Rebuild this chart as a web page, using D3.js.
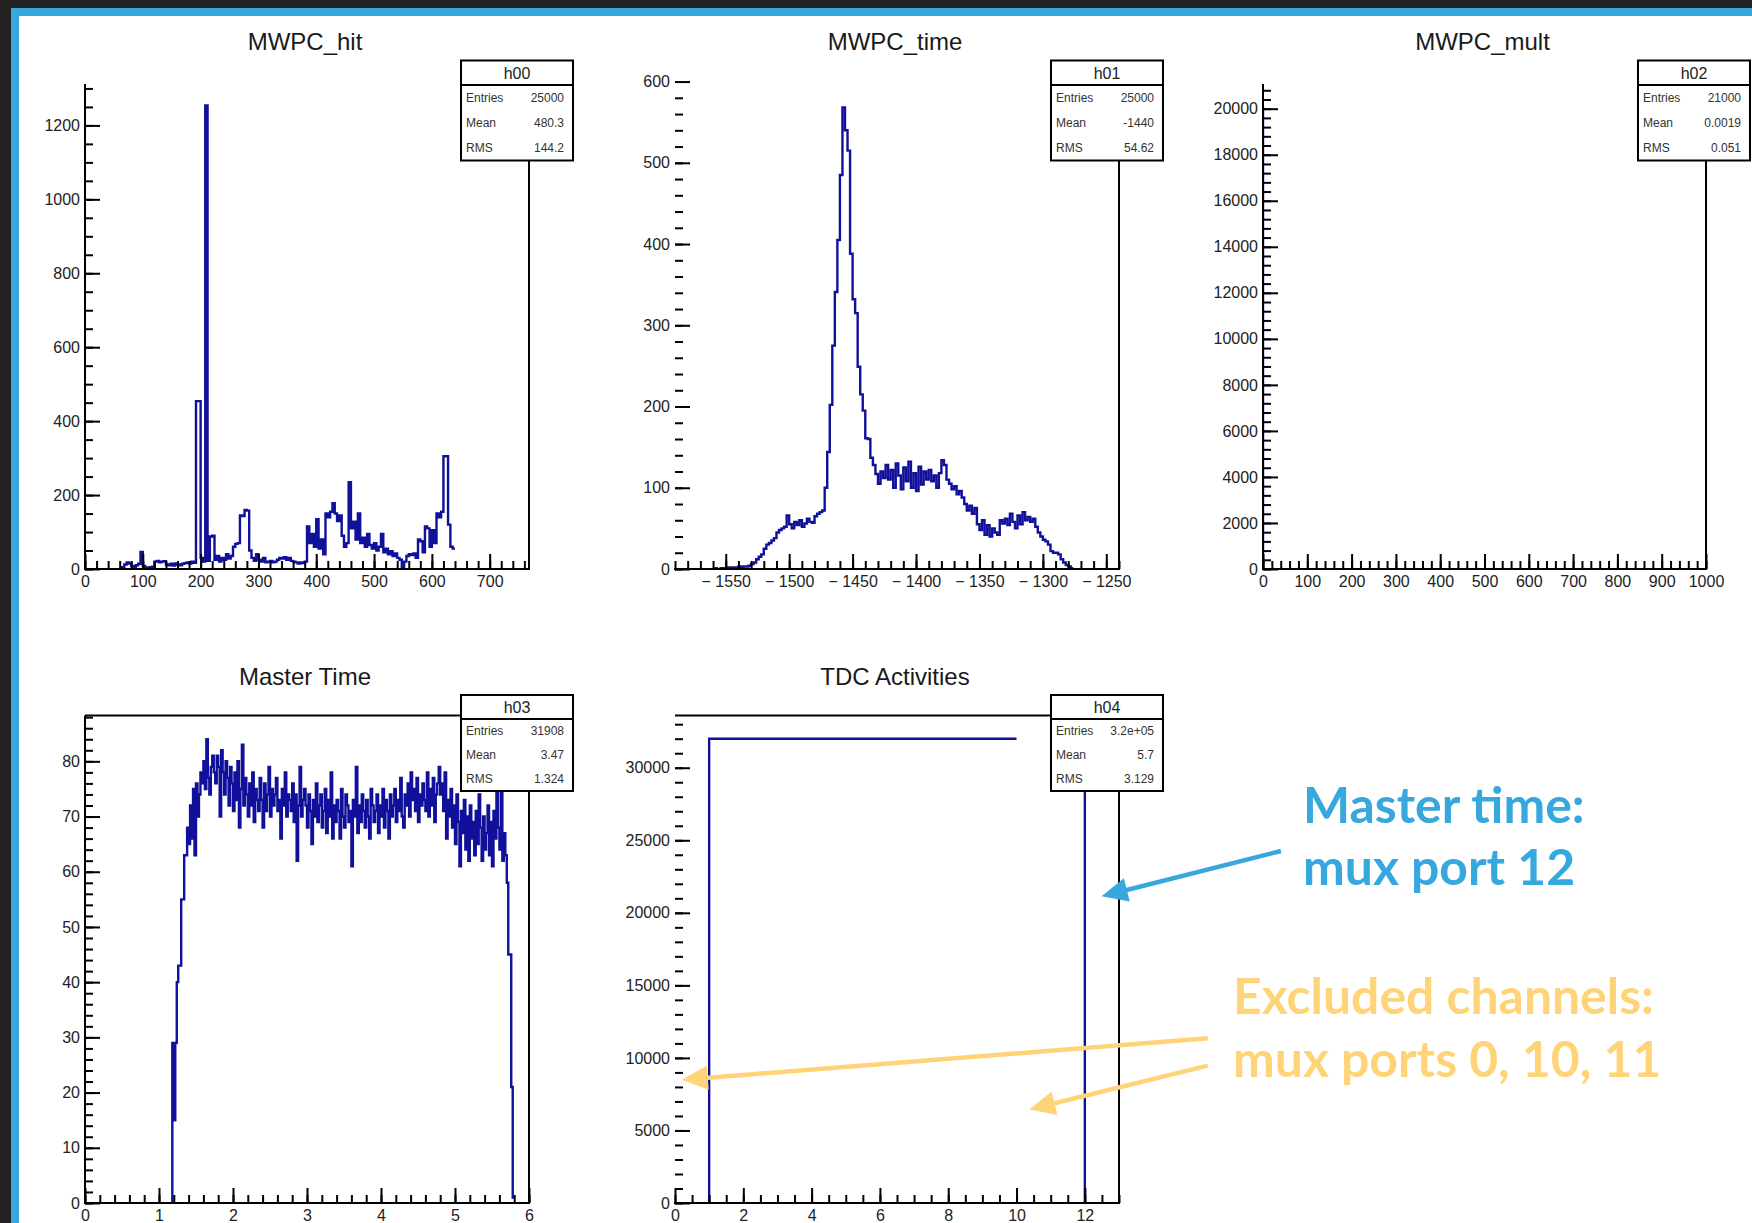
<!DOCTYPE html>
<html>
<head>
<meta charset="utf-8">
<script src="https://cdnjs.cloudflare.com/ajax/libs/d3/7.8.5/d3.min.js"></script>
<style>
  html, body { margin: 0; padding: 0; background: #222; }
  svg { display: block; }
</style>
</head>
<body>
<svg width="1752" height="1223"></svg>
<script>
// ---- data ----
// MWPC_hit : bins of 4, starting at 64
var hitStart = 64, hitWidth = 4;
var hitCounts = [
  5, 12, 18, 15, 8, 4, 10, 14, 46, 8,
  4, 3, 5, 6, 20, 22, 18, 20, 21, 12,
  10, 14, 9, 15, 12, 10, 14, 16, 18, 15,
  20, 17, 454, 454, 30, 20, 1254, 22, 88, 90,
  25, 35, 20, 30, 25, 40, 28, 35, 60, 68,
  70, 145, 143, 160, 158, 50, 30, 22, 40, 25,
  20, 30, 18, 20, 22, 18, 20, 25, 30, 28,
  32, 25, 30, 22, 20, 18, 15, 18, 16, 20,
  115, 70, 95, 60, 135, 55, 80, 40, 150, 140,
  155, 178, 150, 130, 145, 90, 60, 70, 235, 110,
  128, 80, 150, 70, 85, 60, 95, 65, 55, 70,
  50, 60, 95, 45, 55, 40, 48, 35, 42, 30,
  25, 5, 20, 35, 40, 38, 42, 30, 80, 75,
  45, 115, 110, 60, 105, 70, 150, 140, 155, 305,
  305, 120, 60, 55
];

// MWPC_time : bins of 2, starting at -1560
var timeStart = -1560, timeWidth = 2;
var timeCounts = [
  0, 1, 0, 1, 1,
  1, 2, 1, 2, 2, 3, 2, 3, 3, 4,
  6, 8, 12, 15, 18,
  25, 30, 32, 35, 38,
  45, 48, 50, 52, 66,
  55, 50, 58, 54, 60,
  52, 56, 62, 58, 57,
  65, 68, 70, 72, 100,
  144, 202, 275, 341, 405,
  485, 568, 540, 515, 388,
  332, 315, 249, 215, 195,
  161, 160, 137, 128, 117,
  105, 120, 112, 128, 110,
  122, 100, 130, 115, 98,
  125, 108, 132, 100, 118,
  96, 126, 104, 120, 110,
  122, 108, 115, 100, 118,
  134, 128, 110, 105, 98,
  102, 92, 96, 88, 80,
  72, 78, 68, 75, 55,
  48, 60, 42, 54, 40,
  50, 45, 42, 60, 56,
  62, 54, 68, 58, 50,
  66, 55, 70, 60, 64,
  58, 62, 52, 45, 40,
  36, 34, 30, 22, 20,
  20, 18, 12, 8, 5,
  3, 1
];

// MWPC_mult : everything in the first bin
var multStart = 0, multWidth = 1;
var multCounts = [20070];

// Master Time : bins of 0.02, starting at 1.18
var masterStart = 1.18, masterWidth = 0.02;
var masterCounts = [
  29, 15, 29, 40, 43, 43, 55, 55, 63, 63,
  68, 65, 72, 66, 75, 63, 76, 70, 74, 78,
  76, 80, 75, 84, 77, 74, 79, 81, 78, 76,
  81, 79, 70, 82, 78, 74, 80, 77, 72, 79,
  76, 71, 78, 73, 80, 68, 75, 83, 72, 77,
  74, 70, 76, 72, 78, 69, 75, 73, 71, 77,
  73, 68, 76, 71, 74, 79, 70, 75, 72, 74,
  77, 71, 73, 66, 75, 72, 78, 70, 74, 73,
  71, 76, 69, 74, 62, 72, 79, 70, 73, 75,
  72, 68, 74, 71, 65, 73, 70, 76, 69, 72,
  74, 68, 71, 75, 67, 73, 70, 78, 66, 72,
  69, 73, 71, 66, 75, 70, 68, 74, 72, 69,
  71, 61, 73, 70, 79, 67, 72, 69, 74, 71,
  68, 73, 70, 66, 75, 72, 69, 71, 74, 67,
  72, 70, 75, 68, 73, 71, 66, 74, 70, 72,
  75, 69, 73, 71, 77, 70, 68, 74, 72, 76,
  70, 78, 73, 75, 71, 77, 69, 74, 72, 76,
  73, 71, 78, 70, 75, 72, 77, 69, 74, 76,
  79, 74, 76, 71, 78, 66, 73, 70, 75, 68,
  72, 65, 74, 69, 61, 71, 67, 73, 64, 70,
  62, 72, 66, 69, 63, 71, 65, 74, 68, 62,
  70, 64, 67, 72, 63, 69, 61, 71, 66, 79,
  68, 64, 78, 62, 67, 63, 58, 45, 45, 21,
  1
];

// TDC Activities : one bin per mux port 0..12
var tdcStart = 0, tdcWidth = 1;
var tdcCounts = [0, 32000, 32000, 32000, 32000, 32000, 32000, 32000, 32000, 32000, 0, 0, 32000];

// stats boxes: name, entries, mean, rms
var statLabels = ["Entries", "Mean", "RMS"];
var hitStats = ["h00", "25000", "480.3", "144.2"];
var timeStats = ["h01", "25000", "-1440", "54.62"];
var multStats = ["h02", "21000", "0.0019", "0.051"];
var masterStats = ["h03", "31908", "3.47", "1.324"];
var tdcStats = ["h04", "3.2e+05", "5.7", "3.129"];

// ---- drawing ----
var svg = d3.select("svg");
var histColor = "#10109a";
var axisFont = "'Liberation Sans', Arial, sans-serif";

// dark slide border, blue strip, white sheet
svg.append("rect").attr("width", 1752).attr("height", 1223).attr("fill", "#222");
svg.append("rect").attr("x", 11).attr("y", 8).attr("width", 1741).attr("height", 1215).attr("fill", "#36a8de");
svg.append("rect").attr("x", 19).attr("y", 16).attr("width", 1733).attr("height", 1207).attr("fill", "#fff");

var topRow = {top: 84, bottom: 569, titleY: 50, boxTop: 60.5, boxH: 100, headH: 24.5};
var botRow = {top: 715.5, bottom: 1203, titleY: 685, boxTop: 695, boxH: 96, headH: 24};

var panels = [
  {title: "MWPC_hit", start: hitStart, width: hitWidth, counts: hitCounts, stats: hitStats,
   xDomain: [0, 768], yMax: 1312, xMajor: 100, xMinor: 20, yMajor: 200, yMinor: 50,
   left: 85, right: 529, row: topRow, leftLine: true, topLine: false},
  {title: "MWPC_time", start: timeStart, width: timeWidth, counts: timeCounts, stats: timeStats,
   xDomain: [-1590, -1240], yMax: 597, xMajor: 50, xMinor: 10, yMajor: 100, yMinor: 20,
   left: 675, right: 1119, row: topRow, leftLine: false, topLine: false,
   xFormat: function(d) { return d < 0 ? "\u2212 " + Math.abs(d) : d; }},
  {title: "MWPC_mult", start: multStart, width: multWidth, counts: multCounts, stats: multStats,
   xDomain: [0, 1000], yMax: 21073, xMajor: 100, xMinor: 20, yMajor: 2000, yMinor: 400,
   left: 1263, right: 1706, row: topRow, leftLine: true, topLine: false},
  {title: "Master Time", start: masterStart, width: masterWidth, counts: masterCounts, stats: masterStats,
   xDomain: [0, 6], yMax: 88.3, xMajor: 1, xMinor: 0.2, yMajor: 10, yMinor: 2,
   left: 85, right: 529, row: botRow, leftLine: true, topLine: true},
  {title: "TDC Activities", start: tdcStart, width: tdcWidth, counts: tdcCounts, stats: tdcStats,
   xDomain: [0, 13], yMax: 33600, xMajor: 2, xMinor: 0.5, yMajor: 5000, yMinor: 1000,
   left: 675, right: 1119, row: botRow, leftLine: false, topLine: true}
];

function steps(lo, hi, step) {
  var a = [];
  for (var i = Math.ceil(lo / step - 1e-9); i * step <= hi + 1e-9; i++) a.push(+(i * step).toFixed(6));
  return a;
}

// ROOT-like outline: each run of filled bins rises from the baseline, no drop at its end
function histPath(p, x, y) {
  var path = d3.path(), open = false;
  p.counts.forEach(function(c, i) {
    var lo = p.start + i * p.width, hi = lo + p.width;
    if (c > 0) {
      if (!open) { path.moveTo(x(lo), y(0)); open = true; }
      path.lineTo(x(lo), y(c));
      path.lineTo(x(hi), y(c));
    } else {
      open = false;
    }
  });
  return path.toString();
}

function styleAxis(sel) {
  sel.select(".domain").remove();
  sel.selectAll(".tick line").attr("stroke", "#000").attr("stroke-width", 2);
  sel.selectAll(".tick text").attr("fill", "#222").attr("font-size", 16).attr("font-family", axisFont);
}

function drawPanel(p, idx) {
  var r = p.row;
  var x = d3.scaleLinear().domain(p.xDomain).range([p.left, p.right]);
  var y = d3.scaleLinear().domain([0, p.yMax]).range([r.bottom, r.top]);
  var g = svg.append("g");

  g.append("clipPath").attr("id", "clip" + idx).append("rect")
    .attr("x", p.left).attr("y", r.top).attr("width", p.right - p.left).attr("height", r.bottom - r.top);

  g.append("path")
    .attr("d", histPath(p, x, y))
    .attr("fill", "none")
    .attr("stroke", histColor)
    .attr("stroke-width", 2.4)
    .attr("clip-path", "url(#clip" + idx + ")");

  var fmt = p.xFormat || function(d) { return d; };
  g.append("g").attr("transform", "translate(0," + r.bottom + ")")
    .call(d3.axisBottom(x).tickValues(steps(p.xDomain[0], p.xDomain[1], p.xMinor)).tickSize(-8).tickFormat(""))
    .call(styleAxis);
  g.append("g").attr("transform", "translate(0," + r.bottom + ")")
    .call(d3.axisBottom(x).tickValues(steps(p.xDomain[0], p.xDomain[1], p.xMajor)).tickSize(-15).tickPadding(7).tickFormat(fmt))
    .call(styleAxis);

  g.append("g").attr("transform", "translate(" + p.left + ",0)")
    .call(d3.axisLeft(y).tickValues(steps(0, p.yMax, p.yMinor)).tickSize(-8).tickFormat(""))
    .call(styleAxis);
  g.append("g").attr("transform", "translate(" + p.left + ",0)")
    .call(d3.axisLeft(y).tickValues(steps(0, p.yMax + p.yMajor * 0.05, p.yMajor)).tickSize(-15).tickPadding(5).tickFormat(function(d) { return d; }))
    .call(styleAxis);

  // frame
  var frame = g.append("g").attr("stroke", "#000").attr("stroke-width", 2);
  frame.append("line").attr("x1", p.left - 1).attr("x2", p.right + 1).attr("y1", r.bottom).attr("y2", r.bottom);
  frame.append("line").attr("x1", p.right).attr("x2", p.right).attr("y1", r.top).attr("y2", r.bottom);
  if (p.leftLine) frame.append("line").attr("x1", p.left).attr("x2", p.left).attr("y1", r.top).attr("y2", r.bottom);
  if (p.topLine) frame.append("line").attr("x1", p.left).attr("x2", p.right).attr("y1", r.top).attr("y2", r.top);

  // title
  g.append("text")
    .attr("x", (p.left + p.right) / 2 - 2).attr("y", r.titleY)
    .attr("text-anchor", "middle")
    .attr("font-family", axisFont).attr("font-size", 24).attr("fill", "#1a1a1a")
    .text(p.title);

  // stats box
  var bx = p.right - 68, bw = 112;
  var box = g.append("g");
  box.append("rect").attr("x", bx).attr("y", r.boxTop).attr("width", bw).attr("height", r.boxH)
    .attr("fill", "#fff").attr("stroke", "#000").attr("stroke-width", 2);
  box.append("line").attr("x1", bx).attr("x2", bx + bw)
    .attr("y1", r.boxTop + r.headH).attr("y2", r.boxTop + r.headH)
    .attr("stroke", "#000").attr("stroke-width", 2);
  box.append("text")
    .attr("x", bx + bw / 2).attr("y", r.boxTop + r.headH / 2 + 6)
    .attr("text-anchor", "middle")
    .attr("font-family", axisFont).attr("font-size", 16).attr("fill", "#222")
    .text(p.stats[0]);
  var part = (r.boxH - r.headH) / 3;
  statLabels.forEach(function(lab, i) {
    var cy = r.boxTop + r.headH + part * (i + 0.5) + 4;
    box.append("text").attr("x", bx + 5).attr("y", cy)
      .attr("font-family", "'Liberation Sans Narrow', " + axisFont).attr("font-size", 12).attr("fill", "#333")
      .text(lab);
    box.append("text").attr("x", bx + bw - 9).attr("y", cy)
      .attr("text-anchor", "end")
      .attr("font-family", "'Liberation Sans Narrow', " + axisFont).attr("font-size", 12).attr("fill", "#333")
      .text(p.stats[i + 1]);
  });

  return {x: x, y: y};
}

var scales = panels.map(drawPanel);
var tdc = scales[4];

// ---- annotations ----
var blue = "#36a8de", yellow = "#ffd479";

// arrows given in TDC data coordinates (port, counts)
var arrows = [
  {from: [17.74, 24264], to: [12.49, 21134], color: blue},
  {from: [15.60, 11356], to: [0.20, 8488], color: yellow},
  {from: [15.60, 9467], to: [10.37, 6447], color: yellow}
];

arrows.forEach(function(a) {
  var x0 = tdc.x(a.from[0]), y0 = tdc.y(a.from[1]);
  var x1 = tdc.x(a.to[0]), y1 = tdc.y(a.to[1]);
  var dx = x1 - x0, dy = y1 - y0, len = Math.sqrt(dx * dx + dy * dy);
  var ux = dx / len, uy = dy / len, L = 26, W = 12;
  var bxp = x1 - ux * L, byp = y1 - uy * L;
  svg.append("line")
    .attr("x1", x0).attr("y1", y0).attr("x2", bxp + ux * 2).attr("y2", byp + uy * 2)
    .attr("stroke", a.color).attr("stroke-width", 4.5);
  svg.append("path")
    .attr("d", "M" + x1 + "," + y1 +
               "L" + (bxp - uy * W) + "," + (byp + ux * W) +
               "L" + (bxp + uy * W) + "," + (byp - ux * W) + "Z")
    .attr("fill", a.color);
});

var notes = [
  {text: "Master time:", x: 1303, y: 823, color: blue},
  {text: "mux port 12", x: 1303, y: 885, color: blue},
  {text: "Excluded channels:", x: 1233, y: 1014, color: yellow},
  {text: "mux ports 0, 10, 11", x: 1233, y: 1077, color: yellow}
];

var noteText = svg.append("g")
  .attr("font-family", "Lato, 'Open Sans', sans-serif")
  .attr("font-weight", 700)
  .selectAll("text")
  .data(notes)
  .enter().append("text")
    .attr("x", function(d) { return d.x; })
    .attr("y", function(d) { return d.y; })
    .attr("fill", function(d) { return d.color; })
    .attr("font-size", 44)
    .text(function(d) { return d.text; });

// fit the annotation size to the width of "Excluded channels:" in the slide
var w = noteText.nodes()[2].getComputedTextLength();
if (w > 0) noteText.attr("font-size", 44 * 421 / w);
</script>
</body>
</html>
